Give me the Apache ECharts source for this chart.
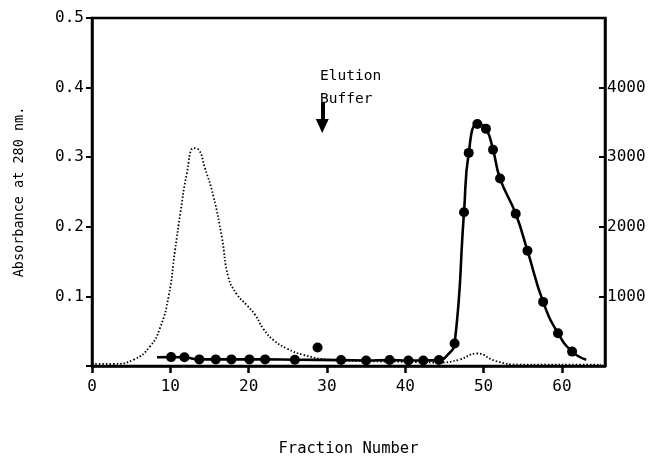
<!DOCTYPE html>
<html>
<head>
<meta charset="utf-8">
<script src="https://cdn.jsdelivr.net/npm/echarts@6/dist/echarts.min.js"></script>
<style>
html,body{margin:0;padding:0;background:#fff;}
#chart{width:649px;height:462px;}
</style>
</head>
<body>
<div id="chart"></div>
<script>
// Absorbance at 280 nm (dotted curve, left axis)
var absFractions = [0, 2.7, 5.3, 7.4, 8.7, 9.8, 10.6, 11.3, 12.1, 13.0, 13.6, 14.4, 15.5, 16.6, 17.4, 18.5, 19.8, 20.8, 21.9, 23.2, 24.9, 27.0, 30.4, 35, 40, 44.4, 46.9, 49.1, 51.6, 54.6, 58, 62, 65];
var absValues    = [0.003, 0.003, 0.009, 0.028, 0.055, 0.101, 0.166, 0.221, 0.276, 0.313, 0.311, 0.285, 0.244, 0.184, 0.128, 0.103, 0.087, 0.074, 0.053, 0.037, 0.025, 0.016, 0.009, 0.007, 0.006, 0.005, 0.009, 0.018, 0.007, 0.002, 0.002, 0.002, 0.002];

// Activity (solid curve, right axis)
var actLineFractions = [8.3, 10.1, 11.8, 13.7, 15.8, 17.8, 20.1, 22.1, 25.9, 31.8, 35.0, 38.0, 40.4, 42.3, 44.3, 45.4, 46.3, 47.5, 48.1, 49.2, 50.3, 51.2, 52.1, 54.1, 55.6, 57.6, 59.5, 61.3, 63.1];
var actLineValues    = [125, 128, 125, 95, 95, 95, 95, 95, 90, 85, 80, 85, 80, 80, 85, 160, 322, 2210, 3062, 3476, 3407, 3108, 2693, 2187, 1657, 921, 470, 207, 90];

// Measured activity points (filled dots)
var actDotFractions = [10.1, 11.8, 13.7, 15.8, 17.8, 20.1, 22.1, 25.9, 28.8, 31.8, 35.0, 38.0, 40.4, 42.3, 44.3, 46.3, 47.5, 48.1, 49.2, 50.3, 51.2, 52.1, 54.1, 55.6, 57.6, 59.5, 61.3];
var actDotValues    = [128, 125, 95, 95, 95, 95, 95, 90, 265, 85, 80, 85, 80, 80, 85, 322, 2210, 3062, 3476, 3407, 3108, 2693, 2187, 1657, 921, 470, 207];

// Axis ticks
var xTicks = [0, 10, 20, 30, 40, 50, 60];
var leftTicks = [0.1, 0.2, 0.3, 0.4, 0.5];
var rightTicks = [1000, 2000, 3000, 4000];

// Elution buffer annotation
var elutionFraction = 29.4;
var elutionLabel = 'Elution\nBuffer';

function pairs(xs, ys){ return xs.map(function(x,i){ return [x, ys[i]]; }); }

var FONT = 'DejaVu Sans Mono';
var chart = echarts.init(document.getElementById('chart'), null, {renderer:'canvas'});

chart.setOption({
  animation: false,
  backgroundColor: '#fff',
  grid: { left: 92, right: 44, top: 18, bottom: 82, show: true, borderColor: '#000', borderWidth: 2.5 },
  xAxis: [{
    type: 'value', min: 0, max: 65.5, interval: 10,
    name: 'Fraction Number', nameLocation: 'middle', nameGap: 75,
    nameTextStyle: { fontFamily: FONT, fontSize: 15.5, color: '#000' },
    axisLine: { show: true, lineStyle: { color: '#000', width: 2.5 } },
    axisTick: { show: true, inside: false, length: 7, lineStyle: { color: '#000', width: 2.5 } },
    axisLabel: { margin: 13, fontFamily: FONT, fontSize: 16, color: '#000',
      showMaxLabel: false,
      formatter: function(v){ return xTicks.indexOf(v) >= 0 ? String(v) : ''; } },
    splitLine: { show: false }
  }],
  yAxis: [{
    type: 'value', min: 0, max: 0.5, interval: 0.1, position: 'left',
    name: 'Absorbance at 280 nm.', nameLocation: 'middle', nameGap: 66, nameRotate: 90,
    nameTextStyle: { fontFamily: FONT, fontSize: 13.5, color: '#000' },
    axisLine: { show: true, lineStyle: { color: '#000', width: 2.5 } },
    axisTick: { show: true, inside: false, length: 6, lineStyle: { color: '#000', width: 2 } },
    axisLabel: { margin: 8, fontFamily: FONT, fontSize: 16, color: '#000',
      formatter: function(v){ var r = Math.round(v*10)/10; return leftTicks.indexOf(r) >= 0 ? r.toFixed(1) : ''; } },
    splitLine: { show: false }
  }, {
    type: 'value', min: 0, max: 5000, interval: 1000, position: 'right',
    axisLine: { show: true, lineStyle: { color: '#000', width: 2.5 } },
    axisTick: { show: true, inside: true, length: 6, lineStyle: { color: '#000', width: 2 } },
    axisLabel: { margin: 2, fontFamily: FONT, fontSize: 16, color: '#000',
      formatter: function(v){ return rightTicks.indexOf(v) >= 0 ? String(v) : ''; } },
    splitLine: { show: false }
  }],
  series: [{
    name: 'Absorbance', type: 'line', yAxisIndex: 0,
    data: pairs(absFractions, absValues),
    smooth: 0.5, showSymbol: false, symbol: 'none',
    lineStyle: { color: '#000', width: 1.8, type: [1.5, 2] },
    markLine: {
      silent: true, symbol: ['none', 'none'], label: { show: false },
      lineStyle: { color: '#000', width: 4, type: 'solid' },
      data: [[ { coord: [elutionFraction, 0.378] }, { coord: [elutionFraction, 0.352] } ]]
    },
    markPoint: {
      silent: true, symbol: 'triangle', symbolSize: [13, 14], symbolRotate: 180,
      itemStyle: { color: '#000' }, label: { show: false },
      data: [ { coord: [elutionFraction, 0.345] } ]
    },
    z: 2
  }, {
    name: 'Activity line', type: 'line', yAxisIndex: 1,
    data: pairs(actLineFractions, actLineValues),
    smooth: 0.5, showSymbol: false, symbol: 'none',
    lineStyle: { color: '#000', width: 2.6 },
    z: 3
  }, {
    name: 'Activity', type: 'scatter', yAxisIndex: 1,
    data: pairs(actDotFractions, actDotValues),
    symbol: 'circle', symbolSize: 10,
    itemStyle: { color: '#000', opacity: 1 },
    z: 4
  }],
  graphic: [{
    type: 'text', left: 320, top: 65,
    style: { text: elutionLabel, font: '14.5px ' + FONT, fill: '#000', lineHeight: 23 }
  }]
});
</script>
</body>
</html>
